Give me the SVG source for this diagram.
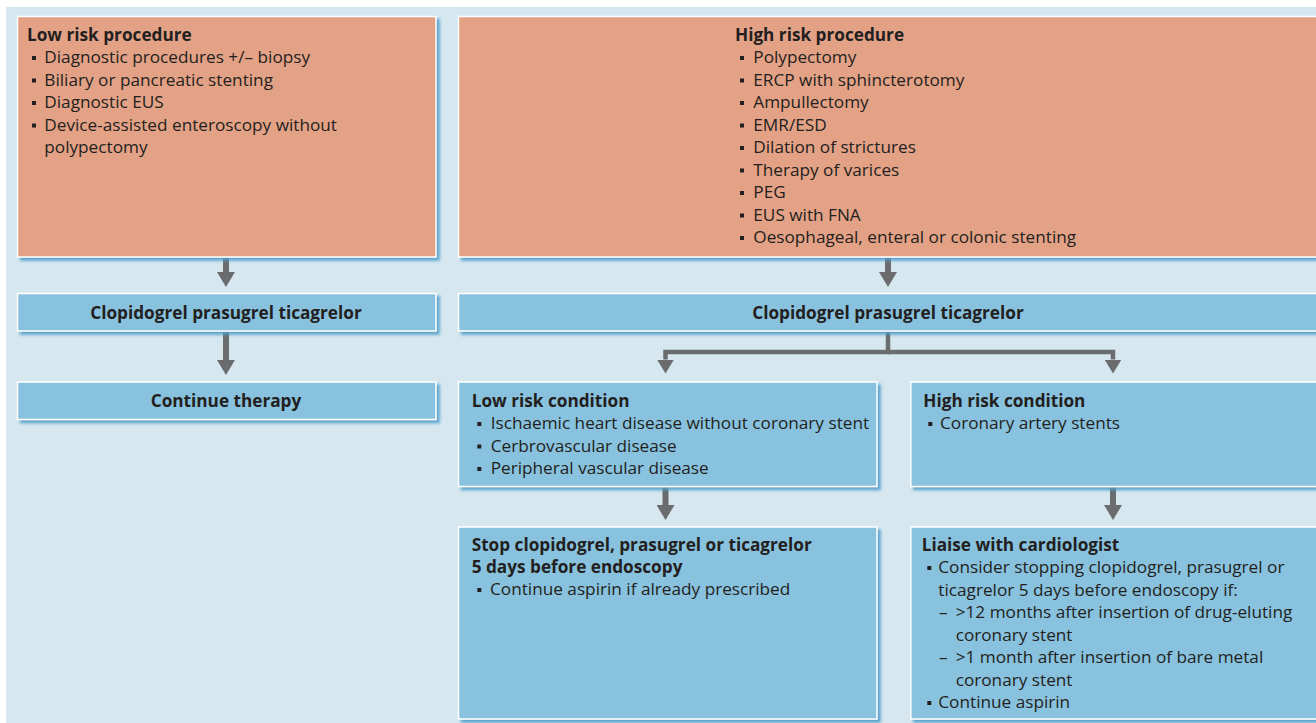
<svg xmlns="http://www.w3.org/2000/svg" width="1316" height="723" viewBox="0 0 1316 723">
<defs>
<filter id="sh" x="-5%" y="-5%" width="115%" height="125%">
<feDropShadow dx="3" dy="3" stdDeviation="1.5" flood-color="#4e9ec9" flood-opacity="0.9"/>
</filter>
<marker id="ah" viewBox="0 0 15 18" refX="0" refY="9" markerWidth="15" markerHeight="18" markerUnits="userSpaceOnUse" orient="auto">
<path d="M0,0 L15,9 L0,18 z" fill="#6b6c6e"/>
</marker>
<marker id="ah2" viewBox="0 0 14 17" refX="0" refY="8.5" markerWidth="14" markerHeight="17" markerUnits="userSpaceOnUse" orient="auto">
<path d="M0,0 L14,8.5 L0,17 z" fill="#6b6c6e"/>
</marker>
</defs>
<style>
.or{fill:#e3a286;stroke:#ffffff;stroke-width:1.5;filter:url(#sh)}
.bl{fill:#88c2de;stroke:#ffffff;stroke-width:1.5;filter:url(#sh)}
text{font-family:"Open Sans","Noto Sans","DejaVu Sans",sans-serif;font-size:17.2px;fill:#231f20}
.b{font-weight:bold}
.c{text-anchor:middle}
.sq{fill:#231f20}
.ln{stroke:#6b6c6e;fill:none}
</style>
<rect x="0" y="0" width="1316" height="723" fill="#ffffff"/>
<rect x="6" y="7" width="1310" height="716" fill="#d6e7f0"/>

<g id="connectors">
<line class="ln" x1="226" y1="257" x2="226" y2="272" stroke-width="6" marker-end="url(#ah)"/>
<line class="ln" x1="226" y1="331" x2="226" y2="360" stroke-width="6" marker-end="url(#ah)"/>
<line class="ln" x1="888" y1="257" x2="888" y2="272" stroke-width="6" marker-end="url(#ah)"/>
<path class="ln" d="M888,331 V352 H665.5 V359.5" stroke-width="4.5" marker-end="url(#ah2)"/>
<path class="ln" d="M888,352 H1113 V359.5" stroke-width="4.5" marker-end="url(#ah2)"/>
<line class="ln" x1="665.5" y1="487" x2="665.5" y2="505" stroke-width="6" marker-end="url(#ah)"/>
<line class="ln" x1="1113" y1="487" x2="1113" y2="505" stroke-width="6" marker-end="url(#ah)"/>
</g>

<g id="low-risk-procedure">
<rect class="or" x="17.5" y="16.5" width="418.5" height="240.5"/>
<text class="b" x="27" y="40.7">Low risk procedure</text>
<rect class="sq" x="32" y="56" width="4" height="4"/>
<text x="44.3" y="63.3">Diagnostic procedures +/– biopsy</text>
<rect class="sq" x="32" y="78.5" width="4" height="4"/>
<text x="44.3" y="85.8">Biliary or pancreatic stenting</text>
<rect class="sq" x="32" y="101" width="4" height="4"/>
<text x="44.3" y="108.3">Diagnostic EUS</text>
<rect class="sq" x="32" y="123.5" width="4" height="4"/>
<text x="44.3" y="130.8">Device-assisted enteroscopy without</text>
<text x="44.3" y="153.3">polypectomy</text>
</g>

<g id="high-risk-procedure">
<rect class="or" x="458.5" y="16.5" width="870" height="240.5"/>
<text class="b" x="735" y="40.7">High risk procedure</text>
<rect class="sq" x="740" y="56" width="4" height="4"/>
<text x="753.3" y="63.3">Polypectomy</text>
<rect class="sq" x="740" y="78.5" width="4" height="4"/>
<text x="753.3" y="85.8">ERCP with sphincterotomy</text>
<rect class="sq" x="740" y="101" width="4" height="4"/>
<text x="753.3" y="108.3">Ampullectomy</text>
<rect class="sq" x="740" y="123.5" width="4" height="4"/>
<text x="753.3" y="130.8">EMR/ESD</text>
<rect class="sq" x="740" y="146" width="4" height="4"/>
<text x="753.3" y="153.3">Dilation of strictures</text>
<rect class="sq" x="740" y="168.5" width="4" height="4"/>
<text x="753.3" y="175.8">Therapy of varices</text>
<rect class="sq" x="740" y="191" width="4" height="4"/>
<text x="753.3" y="198.3">PEG</text>
<rect class="sq" x="740" y="213.5" width="4" height="4"/>
<text x="753.3" y="220.8">EUS with FNA</text>
<rect class="sq" x="740" y="236" width="4" height="4"/>
<text x="753.3" y="243.3">Oesophageal, enteral or colonic stenting</text>
</g>

<g id="clopidogrel-left">
<rect class="bl" x="17.5" y="293.5" width="418.5" height="37.5"/>
<text class="b c" x="226" y="318.5">Clopidogrel prasugrel ticagrelor</text>
</g>

<g id="clopidogrel-right">
<rect class="bl" x="458.5" y="293.5" width="870" height="37.5"/>
<text class="b c" x="888" y="318.5">Clopidogrel prasugrel ticagrelor</text>
</g>

<g id="continue-therapy">
<rect class="bl" x="17.5" y="382" width="418.5" height="37.5"/>
<text class="b c" x="226" y="406.7">Continue therapy</text>
</g>

<g id="low-risk-condition">
<rect class="bl" x="458.5" y="382" width="418.5" height="104.5"/>
<text class="b" x="471.7" y="406.7">Low risk condition</text>
<rect class="sq" x="477.3" y="422" width="4" height="4"/>
<text x="490.7" y="429.3">Ischaemic heart disease without coronary stent</text>
<rect class="sq" x="477.3" y="444.5" width="4" height="4"/>
<text x="490.7" y="451.8">Cerbrovascular disease</text>
<rect class="sq" x="477.3" y="467" width="4" height="4"/>
<text x="490.7" y="474.3">Peripheral vascular disease</text>
</g>

<g id="high-risk-condition">
<rect class="bl" x="910.8" y="382" width="420" height="104.5"/>
<text class="b" x="923.3" y="406.7">High risk condition</text>
<rect class="sq" x="928.3" y="422" width="4" height="4"/>
<text x="940" y="429.3">Coronary artery stents</text>
</g>

<g id="stop-box">
<rect class="bl" x="458.5" y="527" width="418.5" height="192"/>
<text class="b" x="471.7" y="551">Stop clopidogrel, prasugrel or ticagrelor</text>
<text class="b" x="471.7" y="573.3">5 days before endoscopy</text>
<rect class="sq" x="477.3" y="588" width="4" height="4"/>
<text x="490" y="595.3">Continue aspirin if already prescribed</text>
</g>

<g id="liaise-box">
<rect class="bl" x="910.8" y="527" width="420" height="192"/>
<text class="b" x="921.7" y="550.7">Liaise with cardiologist</text>
<rect class="sq" x="927.3" y="566" width="4" height="4"/>
<text x="938.3" y="573.2">Consider stopping clopidogrel, prasugrel or</text>
<text x="938.3" y="595.7">ticagrelor 5 days before endoscopy if:</text>
<text x="939" y="618.2">–</text>
<text x="955.7" y="618.2">&gt;12 months after insertion of drug-eluting</text>
<text x="955.7" y="640.7">coronary stent</text>
<text x="939" y="663.2">–</text>
<text x="955.7" y="663.2">&gt;1 month after insertion of bare metal</text>
<text x="955.7" y="685.7">coronary stent</text>
<rect class="sq" x="927.3" y="701" width="4" height="4"/>
<text x="938.3" y="708.2">Continue aspirin</text>
</g>
</svg>
